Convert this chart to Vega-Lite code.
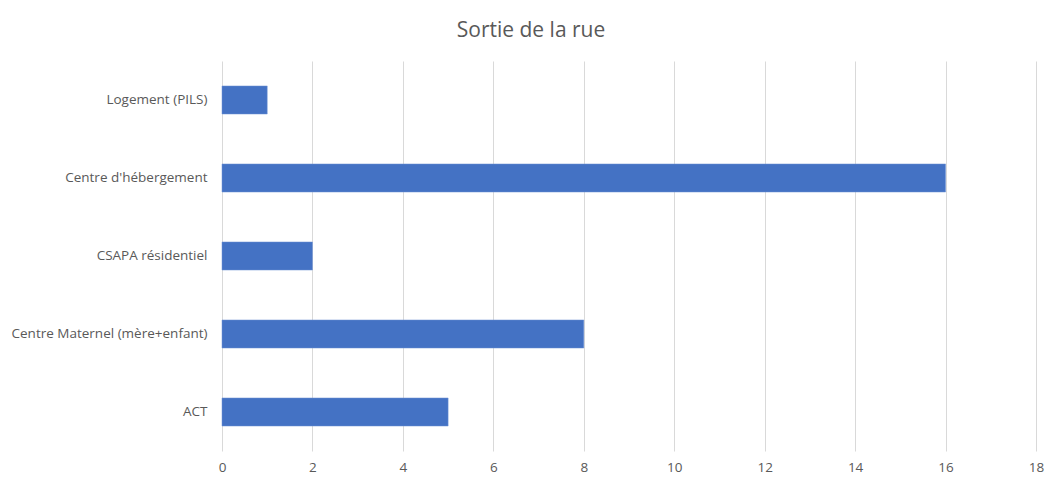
{
  "$schema": "https://vega.github.io/schema/vega-lite/v6.json",
  "width": 814,
  "height": 390,
  "autosize": {"type": "none"},
  "padding": {"left": 222, "top": 61, "right": 11, "bottom": 31},
  "background": "white",
  "title": {
    "text": "Sortie de la rue",
    "font": "Open Sans",
    "fontSize": 21,
    "fontWeight": "normal",
    "color": "#595959",
    "anchor": "middle",
    "dx": -98,
    "offset": 20
  },
  "data": {
    "values": [
      {"category": "Logement (PILS)", "value": 1},
      {"category": "Centre d'hébergement", "value": 16},
      {"category": "CSAPA résidentiel", "value": 2},
      {"category": "Centre Maternel (mère+enfant)", "value": 8},
      {"category": "ACT", "value": 5}
    ]
  },
  "mark": {"type": "bar", "color": "#4472C4", "stroke": "#6f93d4", "strokeWidth": 0.5},
  "encoding": {
    "y": {
      "field": "category",
      "type": "nominal",
      "sort": null,
      "scale": {"paddingInner": 0.64, "paddingOuter": 0.32},
      "axis": {
        "title": null,
        "domain": false,
        "ticks": false,
        "labelPadding": 15,
        "labelLimit": 0,
        "labelFont": "Open Sans",
        "labelFontSize": 13.5,
        "labelColor": "#595959",
        "grid": false
      }
    },
    "x": {
      "field": "value",
      "type": "quantitative",
      "scale": {"domain": [0, 18], "nice": false},
      "axis": {
        "title": null,
        "values": [0, 2, 4, 6, 8, 10, 12, 14, 16, 18],
        "domain": false,
        "ticks": false,
        "labelFlush": false,
        "labelPadding": 9,
        "labelFont": "Open Sans",
        "labelFontSize": 13.5,
        "labelColor": "#595959",
        "grid": true,
        "gridColor": "#d9d9d9",
        "gridWidth": 1
      }
    }
  },
  "config": {"view": {"stroke": null}}
}
